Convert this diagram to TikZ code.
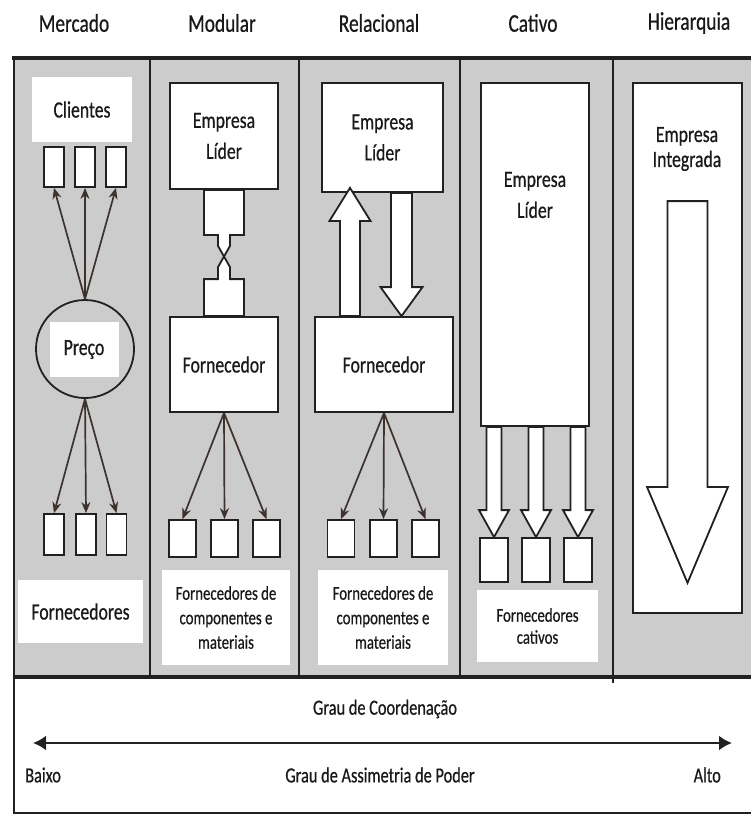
\documentclass[tikz,border=0pt]{standalone}
\usepackage{fontspec}
\setmainfont{Carlito}[FakeStretch=0.76, FakeBold=0.6]
\usetikzlibrary{arrows.meta,calc}

\definecolor{panelgray}{RGB}{204,204,204}
\definecolor{edge}{RGB}{34,32,32}
\definecolor{ink}{RGB}{25,25,25}
\definecolor{pointer}{RGB}{62,50,46}

\tikzset{
  header/.style={font=\fontsize{25.5}{29}\selectfont, text=ink},
  boxtext/.style={font=\fontsize{23.3}{31}\selectfont, text=ink, align=center},
  smalltext/.style={font=\fontsize{19.5}{24.5}\selectfont, text=ink, align=center},
  axistext/.style={font=\fontsize{21.5}{24}\selectfont, text=ink, inner sep=0pt},
  bigbox/.style={draw=edge, fill=white, line width=1.8pt, inner sep=0pt, boxtext},
  smallbox/.style={draw=edge, fill=white, line width=1.8pt, inner sep=0pt},
  plate/.style={fill=white, inner sep=0pt},
  pointer/.style={draw=pointer, line width=1.7pt, -{Stealth[length=11pt,width=9pt]}},
  blockarrow/.style={draw=edge, fill=white, line width=1.8pt, line join=miter},
}

% hollow vertical block arrow: #1 tail, #2 tip, #3 half shaft, #4 half head, #5 head length
\newcommand\vblockarrow[5]{%
  \draw[blockarrow] let \p1=(#1), \p2=(#2), \n1={ifthenelse(\y2>\y1,1,-1)} in
    ({\x2-#3},{\y1}) -- ({\x2-#3},{\y2-(\n1)*#5}) -- ({\x2-#4},{\y2-(\n1)*#5}) -- (\x2,\y2)
    -- ({\x2+#4},{\y2-(\n1)*#5}) -- ({\x2+#3},{\y2-(\n1)*#5}) -- ({\x2+#3},{\y1}) -- cycle;
}

\begin{document}
\begin{tikzpicture}[x=1pt,y=-1pt]
\useasboundingbox (0,0) rectangle (750,816);

% frame and column panels
\fill[panelgray] (14,58) rectangle (752,677);
\fill[white] (14,677) rectangle (752,813);
\draw[edge, line width=1.8pt] (150,58) -- (150,677) (299,58) -- (299,677)
  (460,58) -- (460,677) (613,58) -- (613,683);
\draw[edge, line width=3.4pt] (12.4,58) -- (752,58);
\draw[edge, line width=3.2pt] (13,677) -- (752,677);
\draw[edge, line width=2.2pt] (14,58) -- (14,813) -- (752,813);

% column headers
\node[header] (hmerc) at (74,23) {Mercado};
\node[header] (hmod) at (222,23) {Modular};
\node[header] (hrel) at (379,23) {Relacional};
\node[header] (hcat) at (533,23) {Cativo};
\node[header] (hhier) at (689,23) {Hierarquia};

% ---- Mercado
\node[plate, boxtext, minimum width=100, minimum height=65] (cli) at (82,109.5) {Clientes};
\node[smallbox, minimum width=20, minimum height=40] (mc1) at (54,167) {};
\node[smallbox, minimum width=20, minimum height=40] (mc2) at (85,167) {};
\node[smallbox, minimum width=20, minimum height=40] (mc3) at (116,167) {};
\node[circle, draw=edge, line width=1.8pt, minimum size=98, inner sep=0pt] (circ) at (85,349) {};
\node[plate, boxtext, minimum width=69, minimum height=55] (preco) at (84,349.5) {Preço};
\foreach \b in {mc1,mc2,mc3} \draw[pointer] (circ.north) -- (\b.south);
\node[smallbox, minimum width=20, minimum height=41] (mf1) at (54,534.5) {};
\node[smallbox, minimum width=20, minimum height=41] (mf2) at (86,534.5) {};
\node[smallbox, minimum width=20, minimum height=41] (mf3) at (116.5,534.5) {};
\foreach \b in {mf1,mf2,mf3} \draw[pointer] (circ.south) -- (\b.north);
\node[plate, boxtext, minimum width=125, minimum height=63] (mforn) at (80.5,611.5) {Fornecedores};

% ---- Modular
\node[bigbox, minimum width=108, minimum height=106] (modlider) at (224,136) {Empresa\\Líder};
\node[bigbox, minimum width=108, minimum height=95] (modforn) at (224,364.5) {Fornecedor};
\draw[blockarrow] let \p1=(modlider.south), \p2=(modforn.north) in
  ({\x1-20pt},{\y1}) -- ({\x1-20pt},{\y1-45pt}) -- ({\x1-6pt},{\y1-45pt}) -- ({\x1-6pt},{\y1-56pt})
  -- ({\x1+6pt},{\y2+49pt}) -- ({\x1+6pt},{\y2+37pt}) -- ({\x1+20pt},{\y2+37pt}) -- ({\x1+20pt},{\y2})
  -- ({\x1-20pt},{\y2}) -- ({\x1-20pt},{\y2+37pt}) -- ({\x1-6pt},{\y2+37pt}) -- ({\x1-6pt},{\y2+49pt})
  -- ({\x1+6pt},{\y1-56pt}) -- ({\x1+6pt},{\y1-45pt}) -- ({\x1+20pt},{\y1-45pt}) -- ({\x1+20pt},{\y1}) -- cycle;
\node[smallbox, minimum width=27, minimum height=37] (mb1) at (182.5,538.5) {};
\node[smallbox, minimum width=27, minimum height=37] (mb2) at (224.5,538.5) {};
\node[smallbox, minimum width=27, minimum height=37] (mb3) at (266.5,538.5) {};
\foreach \b in {mb1,mb2,mb3} \draw[pointer] (modforn.south) -- (\b.north);
\node[plate, smalltext, minimum width=128, minimum height=95] (modtxt) at (226,617.5)
  {Fornecedores de\\componentes e\\materiais};

% ---- Relacional
\node[bigbox, minimum width=121, minimum height=109] (rellider) at (382.5,137.5) {Empresa\\Líder};
\node[bigbox, minimum width=138, minimum height=95] (relforn) at (384,364.5) {Fornecedor};
\vblockarrow{$(relforn.north)+(-34,0)$}{$(rellider.south)+(-32.5,-5)$}{10pt}{20.5pt}{33pt}
\vblockarrow{$(rellider.south)+(19,0)$}{$(relforn.north)+(17.5,0)$}{10.5pt}{21pt}{29pt}
\node[smallbox, minimum width=27, minimum height=37] (rb1) at (341,538.5) {};
\node[smallbox, minimum width=27, minimum height=37] (rb2) at (383.5,538.5) {};
\node[smallbox, minimum width=27, minimum height=37] (rb3) at (425.5,538.5) {};
\foreach \b in {rb1,rb2,rb3} \draw[pointer] (relforn.south) -- (\b.north);
\node[plate, smalltext, minimum width=130, minimum height=95] (reltxt) at (383,617.5)
  {Fornecedores de\\componentes e\\materiais};

% ---- Cativo
\node[bigbox, minimum width=108, minimum height=343] (catlider) at (535,254.5) {};
\node[boxtext, inner sep=0pt] (catlidertxt) at (535,195) {Empresa\\Líder};
\node[smallbox, minimum width=28, minimum height=44] (cb1) at (494,560) {};
\node[smallbox, minimum width=28, minimum height=44] (cb2) at (536,560) {};
\node[smallbox, minimum width=28, minimum height=44] (cb3) at (578,560) {};
\vblockarrow{catlider.south -| cb1}{cb1.north}{7.5pt}{15pt}{27pt}
\vblockarrow{catlider.south -| cb2}{cb2.north}{7.5pt}{15pt}{27pt}
\vblockarrow{catlider.south -| cb3}{cb3.north}{7.5pt}{15pt}{27pt}
\node[plate, smalltext, minimum width=121, minimum height=72, font=\fontsize{19.5}{22}\selectfont]
  (cattxt) at (537.5,626) {Fornecedores\\cativos};

% ---- Hierarquia
\node[bigbox, minimum width=109, minimum height=530] (hier) at (687.5,348) {};
\node[boxtext, inner sep=0pt, font=\fontsize{23.3}{25}\selectfont] (hiertxt) at (687,149) {Empresa\\Integrada};
\vblockarrow{$(hier.north)+(0,119)$}{$(hier.south)+(0,-31)$}{20pt}{40.5pt}{96pt}

% ---- scale of coordination and power asymmetry
\node[axistext] (coord) at (385,709) {Grau de Coordenação};
\coordinate (lowend) at (33,743);
\coordinate (highend) at (732,743);
\draw[edge, line width=2.8pt, {Latex[length=13pt,width=15pt]}-{Latex[length=13pt,width=15pt]}]
  (lowend) -- (highend);
\node[axistext, anchor=west] (baixo) at (25,775) {Baixo};
\node[axistext, anchor=east] (alto) at (721,775) {Alto};
\node[axistext] (poder) at (380,775) {Grau de Assimetria de Poder};
\end{tikzpicture}
\end{document}
